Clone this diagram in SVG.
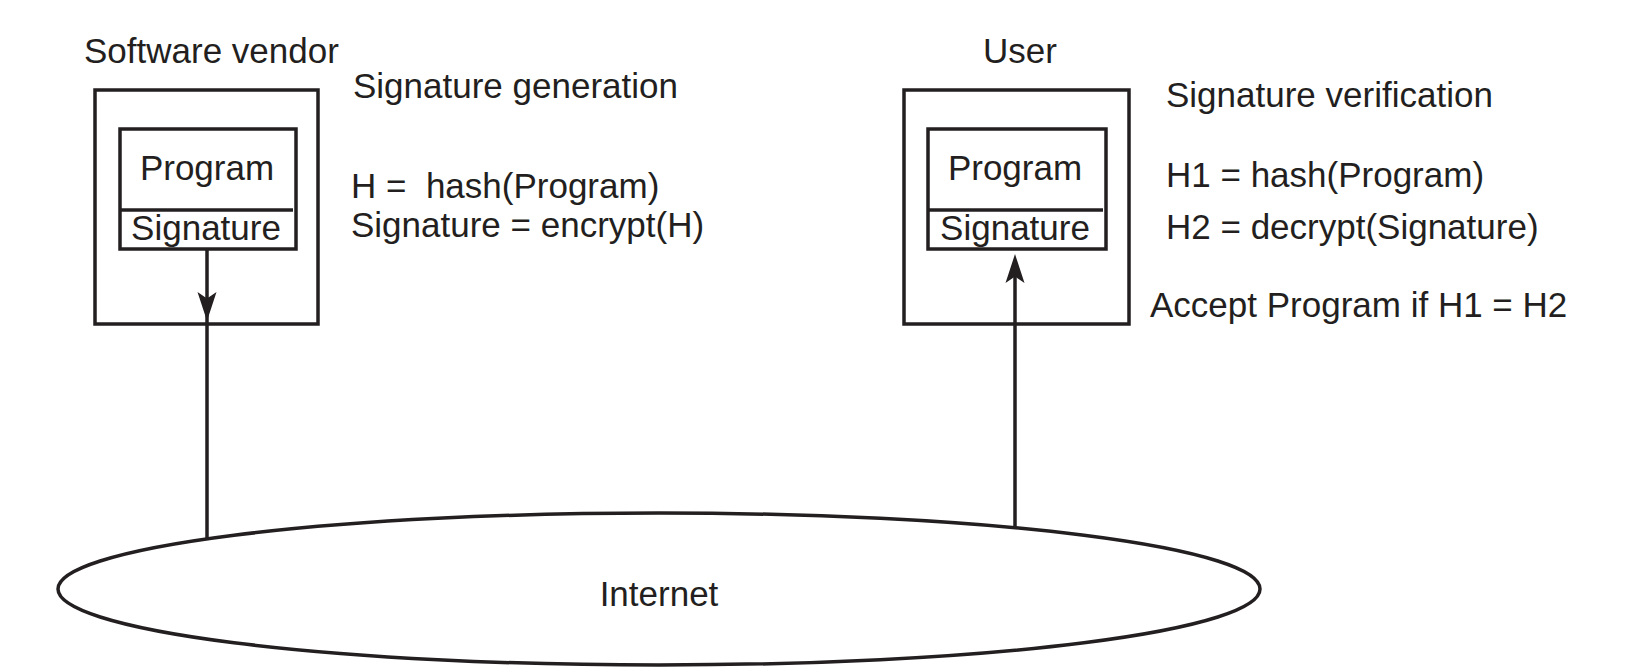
<svg xmlns="http://www.w3.org/2000/svg" width="1626" height="669" viewBox="0 0 1626 669">
<style>
  text { font-family: "Liberation Sans", Arial, sans-serif; font-size: 35px; fill: #231f20; }
  .box { fill: none; stroke: #231f20; stroke-width: 3.5; }
  .div { stroke: #231f20; stroke-width: 3.5; }
  .line { stroke: #231f20; stroke-width: 3.5; fill: none; }
  .head { fill: #231f20; stroke: none; }
  .mid { text-anchor: middle; }
</style>
<rect width="1626" height="669" fill="#ffffff"/>

<g id="vendor">
  <text x="84" y="63">Software vendor</text>
  <rect class="box" x="95" y="90" width="223" height="234"/>
</g>
<g id="vendor-package">
  <rect class="box" x="120" y="129" width="176" height="120"/>
  <line class="div" x1="120" y1="210" x2="293" y2="210"/>
  <text class="mid" x="207" y="180">Program</text>
  <text class="mid" x="206" y="240">Signature</text>
</g>
<g id="generation-notes">
  <text x="353" y="98">Signature generation</text>
  <text x="351" y="198" xml:space="preserve">H =  hash(Program)</text>
  <text x="351" y="237">Signature = encrypt(H)</text>
</g>

<g id="user">
  <text class="mid" x="1020" y="63">User</text>
  <rect class="box" x="904" y="90" width="225" height="234"/>
</g>
<g id="user-package">
  <rect class="box" x="928" y="129" width="178" height="120"/>
  <line class="div" x1="928" y1="210" x2="1103" y2="210"/>
  <text class="mid" x="1015" y="180">Program</text>
  <text class="mid" x="1015" y="240">Signature</text>
</g>
<g id="verification-notes">
  <text x="1166" y="107">Signature verification</text>
  <text x="1166" y="187">H1 = hash(Program)</text>
  <text x="1166" y="239">H2 = decrypt(Signature)</text>
  <text x="1150" y="317">Accept Program if H1 = H2</text>
</g>

<g id="internet">
  <ellipse class="box" cx="659" cy="589" rx="601" ry="76"/>
  <text class="mid" x="659" y="606">Internet</text>
</g>

<g id="connectors">
  <line class="line" x1="207" y1="249" x2="207" y2="538"/>
  <path class="head" d="M207,321 L197.5,292 L207,298.5 L216.5,292 Z"/>
  <line class="line" x1="1015" y1="527" x2="1015" y2="265"/>
  <path class="head" d="M1015,254 L1005.5,283 L1015,276.5 L1024.5,283 Z"/>
</g>
</svg>
